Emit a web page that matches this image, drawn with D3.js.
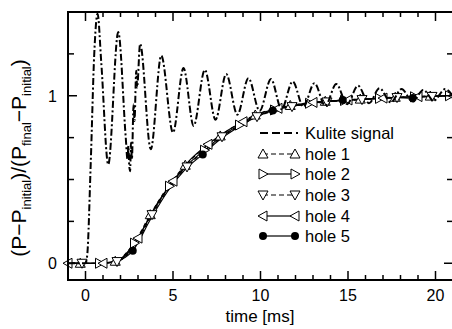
<!DOCTYPE html>
<html><head><meta charset="utf-8">
<script src="https://cdn.jsdelivr.net/npm/d3@7"></script>
<style>
html,body{margin:0;padding:0;background:#fff;overflow:hidden}
svg{display:block;font-family:"Liberation Sans",Arial,Helvetica,sans-serif}
</style></head>
<body><svg id="c" width="452" height="329"></svg>
<script>
// ---------- data ----------
const kuliteTime = [-1,0,0.1,0.3,0.5,0.69,0.9,1.3,1.87,2.3,2.4,2.45,2.5,2.55,2.6,2.65,2.75,2.8,2.9,2.95,3.12,3.73,4.33,5.0,5.6,6.18,6.82,7.43,8.04,8.68,9.31,9.95,10.6,11.2,11.84,12.45,13.08,13.7,14.33,14.95,15.57,16.2,16.8,17.45,18.06,18.7,19.3,19.9,20.55,21.1];
const kuliteValue = [0,0,0.05,0.6,1.25,1.49,1.2,0.59,1.38,0.75,0.62,0.7,0.58,0.55,0.72,0.62,0.95,0.85,1.15,1.05,1.31,0.68,1.24,0.78,1.165,0.82,1.155,0.857,1.13,0.887,1.105,0.91,1.1,0.92,1.085,0.935,1.075,0.94,1.07,0.95,1.06,0.955,1.045,0.96,1.04,0.965,1.035,0.97,1.04,0.98];

const hole1Time = [-1.3,-0.3,0.7,1.7,2.7,3.7,4.7,5.7,6.7,7.7,8.7,9.7,10.7,11.7,12.7,13.7,14.7,15.7,16.7,17.7,18.7,19.7,20.7];
const hole1Value = [0,0,0,0.012,0.11,0.29,0.455,0.585,0.68,0.76,0.83,0.885,0.92,0.942,0.957,0.967,0.974,0.98,0.986,0.991,0.995,0.998,1.0];
const hole2Time = [-1.2,-0.2,0.8,1.8,2.8,3.8,4.8,5.8,6.8,7.8,8.8,9.8,10.8,11.8,12.8,13.8,14.8,15.8,16.8,17.8,18.8,19.8,20.8];
const hole2Value = [0,0,0,0.014,0.12,0.3,0.46,0.585,0.675,0.76,0.825,0.88,0.915,0.938,0.955,0.965,0.972,0.978,0.984,0.99,0.994,0.997,1.0];
const hole3Time = [-1.2,-0.2,0.8,1.8,2.8,3.8,4.8,5.8,6.8,7.8,8.8,9.8,10.8,11.8,12.8,13.8,14.8,15.8,16.8,17.8,18.8,19.8,20.8];
const hole3Value = [0,0,0,0.01,0.105,0.29,0.45,0.575,0.67,0.755,0.82,0.875,0.91,0.935,0.952,0.963,0.97,0.977,0.983,0.989,0.993,0.996,0.999];
const hole4Time = [-1,0,1,2,3,4,5,6,7,8,9,10,11,12,13,14,15,16,17,18,19,20,21];
const hole4Value = [0,0,0,0.02,0.15,0.34,0.49,0.62,0.71,0.785,0.845,0.895,0.925,0.945,0.96,0.968,0.975,0.98,0.986,0.991,0.995,0.998,1.0];
const hole5Time = [-1.3,-0.3,0.7,1.7,2.7,3.7,4.7,5.7,6.7,7.7,8.7,9.7,10.7,11.7,12.7,13.7,14.7,15.7,16.7,17.7,18.7,19.7,20.7];
const hole5Value = [0,0,0,0.01,0.075,0.26,0.43,0.56,0.65,0.74,0.81,0.87,0.912,0.935,0.952,0.963,0.974,0.978,0.983,0.988,0.986,0.997,1.0];

const xMajorTicks = [0,5,10,15,20];
const yMajorTicks = [0,1];
const legendLabels = ["Kulite signal","hole 1","hole 2","hole 3","hole 4","hole 5"];

// ---------- layout ----------
const svg = d3.select("#c");
const L = 68, R = 453, T = 12, B = 280;
const x = d3.scaleLinear().domain([-1,21]).range([L,R]);
const y = d3.scaleLinear().domain([-0.1,1.5]).range([B,T]);

svg.append("defs").append("clipPath").attr("id","clip")
  .append("rect").attr("x",L).attr("y",T).attr("width",R-L).attr("height",B-T);

const holes = [
  {t:hole1Time, v:hole1Value, sym:"up",    dash:"4,3", start:1, step:2},
  {t:hole2Time, v:hole2Value, sym:"right", dash:null,  start:2, step:2},
  {t:hole3Time, v:hole3Value, sym:"down",  dash:"4,3", start:1, step:2},
  {t:hole4Time, v:hole4Value, sym:"left",  dash:null,  start:0, step:2},
  {t:hole5Time, v:hole5Value, sym:"dot",   dash:null,  start:4, step:4}
];

const lineGen = d3.line().x(d=>x(d[0])).y(d=>y(d[1])).curve(d3.curveMonotoneX);

function marker(g, cx, cy, sym){
  const s = 5;
  if (sym==="dot"){
    g.append("circle").attr("cx",cx).attr("cy",cy).attr("r",4).attr("fill","#000");
    return;
  }
  let pts;
  if (sym==="up") pts=[[cx,cy-s],[cx+s,cy+s*0.8],[cx-s,cy+s*0.8]];
  if (sym==="down") pts=[[cx,cy+s],[cx+s,cy-s*0.8],[cx-s,cy-s*0.8]];
  if (sym==="right") pts=[[cx+s,cy],[cx-s*0.8,cy-s],[cx-s*0.8,cy+s]];
  if (sym==="left") pts=[[cx-s,cy],[cx+s*0.8,cy-s],[cx+s*0.8,cy+s]];
  g.append("polygon").attr("points",pts.map(p=>p.join(",")).join(" "))
    .attr("fill","#fff").attr("stroke","#000").attr("stroke-width",1);
}

const plot = svg.append("g");
const linesG = plot.append("g").attr("clip-path","url(#clip)");
holes.forEach(h=>{
  const data = h.t.map((t,i)=>[t,h.v[i]]);
  linesG.append("path").attr("d",lineGen(data)).attr("fill","none")
    .attr("stroke","#000").attr("stroke-width",1.2)
    .attr("stroke-dasharray",h.dash);
});
const markG = plot.append("g");
holes.forEach(h=>{
  for (let i=h.start;i<h.t.length;i+=h.step){
    if (h.t[i] < -1 || h.t[i] > 21) continue;
    marker(markG, x(h.t[i]), y(h.v[i]), h.sym);
  }
});

// Kulite
const kData = kuliteTime.map((t,i)=>[t,kuliteValue[i]]);
const kG = plot.append("g").attr("clip-path","url(#clip)");
kG.append("path").attr("d",lineGen(kData)).attr("fill","none")
  .attr("stroke","#000").attr("stroke-width",2)
  .attr("stroke-dasharray","7,2.5,2,2.5");

// ---------- axes ----------
const ax = svg.append("g").attr("stroke","#000").attr("fill","none");
ax.append("rect").attr("x",L).attr("y",T).attr("width",R-L).attr("height",B-T).attr("stroke-width",2);
const xMinor = d3.range(-1,22,1);
xMinor.forEach(t=>{
  const len = xMajorTicks.includes(t) ? 9 : 5;
  ax.append("line").attr("x1",x(t)).attr("x2",x(t)).attr("y1",B).attr("y2",B-len).attr("stroke-width",1.5);
  ax.append("line").attr("x1",x(t)).attr("x2",x(t)).attr("y1",T).attr("y2",T+len).attr("stroke-width",1.5);
});
const yMinor = d3.range(0,1.51,0.25);
yMinor.forEach(v=>{
  const len = yMajorTicks.includes(v) ? 9 : 6;
  ax.append("line").attr("x1",L).attr("x2",L+len).attr("y1",y(v)).attr("y2",y(v)).attr("stroke-width",1.5);
  ax.append("line").attr("x1",R).attr("x2",R-len).attr("y1",y(v)).attr("y2",y(v)).attr("stroke-width",1.5);
});

const txt = svg.append("g").attr("fill","#000").style("font-size","16px");
xMajorTicks.forEach(t=>{
  txt.append("text").attr("x",x(t)).attr("y",301).attr("text-anchor","middle").text(t);
});
yMajorTicks.forEach(v=>{
  txt.append("text").attr("x",57).attr("y",y(v)+6).attr("text-anchor","end").text(v);
});
txt.append("text").attr("x",260).attr("y",322).attr("text-anchor","middle").style("font-size","17px").text("time [ms]");

// y label
const yl = svg.append("text").attr("transform","translate(26,158) rotate(-90)")
  .attr("text-anchor","middle").style("font-size","21px");
const parts = [["(P−P",0],["initial",1],[")/(P",0],["final",1],["−P",0],["initial",1],[")",0]];
let sub = false;
parts.forEach(([s,isSub])=>{
  const ts = yl.append("tspan").text(s);
  if (isSub){ ts.style("font-size","13px"); if(!sub) ts.attr("dy",5); sub=true; }
  else { if(sub) ts.attr("dy",-5); sub=false; }
});

// ---------- legend ----------
const lg = svg.append("g");
const rowY = [133,154,174,195,216,236];
const x1 = 263, x2 = 295;
lg.append("line").attr("x1",x1-3).attr("x2",x2+3).attr("y1",rowY[0]).attr("y2",rowY[0])
  .attr("stroke","#000").attr("stroke-width",1.8).attr("stroke-dasharray","8,4");
holes.forEach((h,i)=>{
  const yy = rowY[i+1];
  lg.append("line").attr("x1",x1).attr("x2",x2).attr("y1",yy).attr("y2",yy)
    .attr("stroke","#000").attr("stroke-width",1.2).attr("stroke-dasharray",h.dash ? "5,3" : null);
  marker(lg,x1,yy,h.sym); marker(lg,x2,yy,h.sym);
});
legendLabels.forEach((s,i)=>{
  lg.append("text").attr("x",305).attr("y",rowY[i]+6).style("font-size","16.5px").text(s);
});
</script></body></html>
